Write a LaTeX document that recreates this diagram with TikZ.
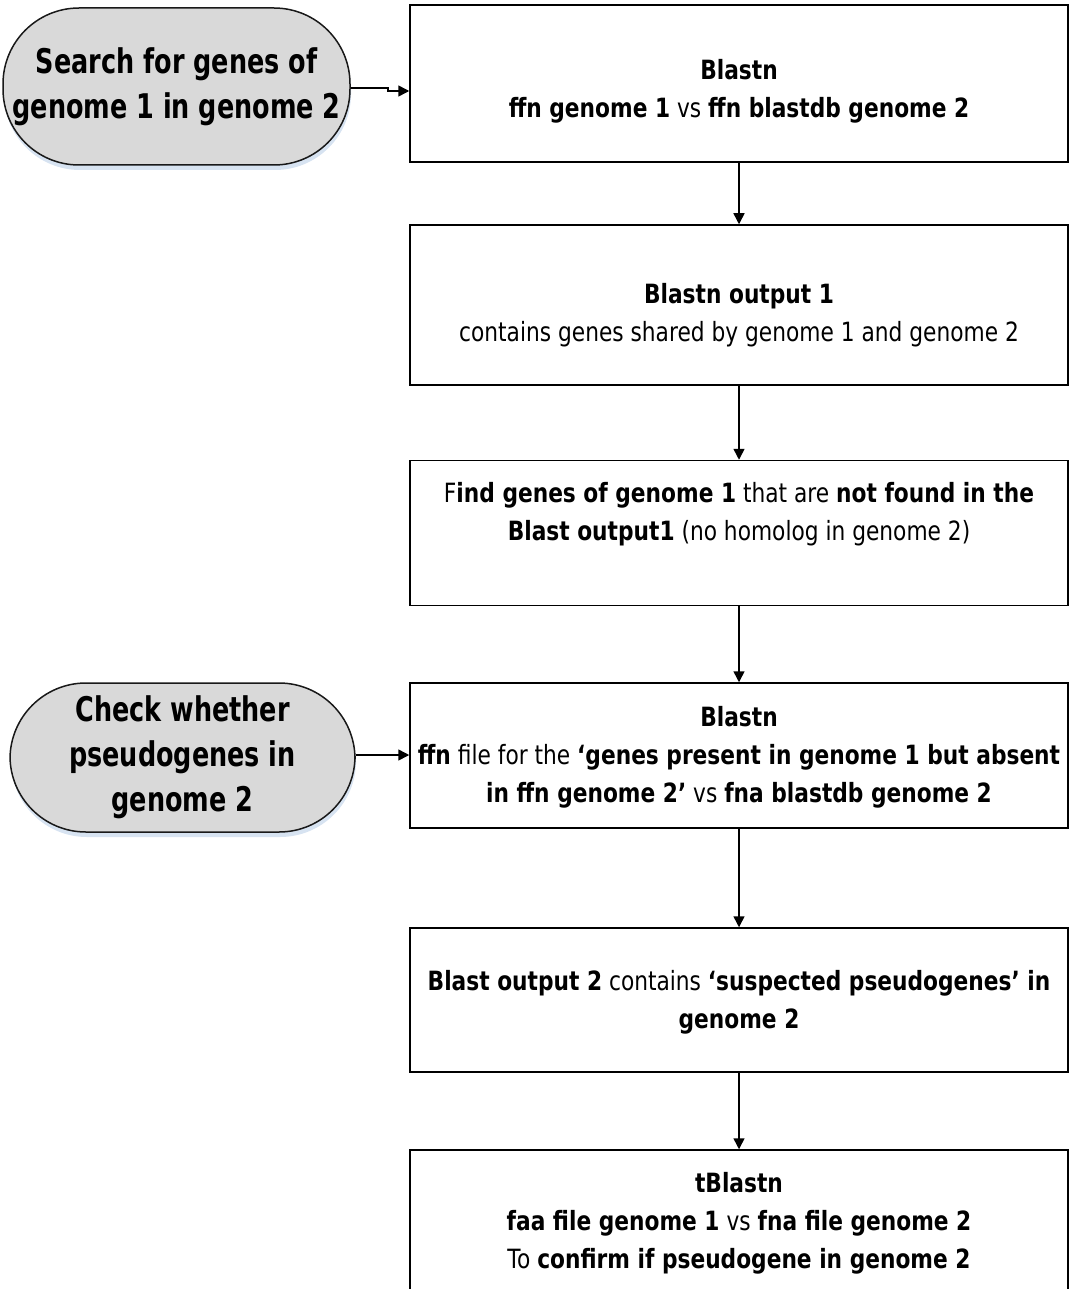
\documentclass[tikz,border=0pt]{standalone}
\usepackage{fontspec}
\setmainfont{DejaVu Sans}[FakeStretch=0.82]
\newfontfamily\termfont{DejaVu Sans}[FakeStretch=0.75]
\usetikzlibrary{arrows.meta,shadows}

\definecolor{termfill}{RGB}{217,217,217}
\definecolor{termglow}{RGB}{205,220,238}

\tikzset{
  stepbox/.style={draw=black, line width=1.5pt, fill=white, minimum width=658pt, inner sep=0pt},
  steptext/.style={align=center, inner sep=0pt, font=\fontsize{26.5}{38}\selectfont},
  terminal/.style={draw=black!90, line width=1.5pt, fill=termfill,
    rounded corners=76pt, align=center, inner sep=0pt,
    font=\termfont\fontsize{34}{45}\selectfont\bfseries,
    drop shadow={shadow xshift=1pt, shadow yshift=-5pt, fill=termglow, opacity=.8}},
  flow/.style={line width=1.5pt, -{Triangle[length=11pt,width=11pt]}}
}

\begin{document}
\begin{tikzpicture}[x=1pt,y=-1pt]
\useasboundingbox (0,0) rectangle (1072,1289);

% process step frames
\node[stepbox, minimum height=157pt] (b1) at (739,83.5) {};
\node[stepbox, minimum height=160pt] (b2) at (739,305) {};
\node[stepbox, minimum height=145pt] (b3) at (739,533) {};
\node[stepbox, minimum height=145pt] (b4) at (739,755.5) {};
\node[stepbox, minimum height=144pt] (b5) at (739,1000) {};
\node[stepbox, minimum height=142pt] (b6) at (739,1221) {};

% process step texts
\node[steptext] (b1t) at ([yshift=-8pt]b1.center)
  {\textbf{Blastn}\\ \textbf{ffn genome 1} vs \textbf{ffn blastdb genome 2}};
\node[steptext] (b2t) at ([yshift=-10pt]b2.center)
  {\textbf{Blastn output 1}\\ contains genes shared by genome 1 and genome 2};
\node[steptext] (b3t) at ([yshift=-1pt]b3.center |- 0,513)
  {F\textbf{ind genes of genome 1} that are \textbf{not found in the}\\
   \textbf{Blast output1} (no homolog in genome 2)};
\node[steptext] (b4t) at ([yshift=-2pt]b4.center)
  {\textbf{Blastn}\\ \textbf{ffn} file for the \textbf{‘genes present in genome 1 but absent}\\
   \textbf{in ffn genome 2’} vs \textbf{fna blastdb genome 2}};
\node[steptext] (b5t) at ([yshift=-2pt]b5.center)
  {\textbf{Blast output 2} contains \textbf{‘suspected pseudogenes’ in}\\ \textbf{genome 2}};
\node[steptext] (b6t) at ([yshift=-2pt]b6.center)
  {\textbf{tBlastn}\\ \textbf{faa file genome 1} vs \textbf{fna file genome 2}\\
   To \textbf{confirm if pseudogene in genome 2}};

% start terminals
\node[terminal, minimum width=347pt, minimum height=157pt] (t1) at (176.5,86.5)
  {Search for genes of\\ genome 1 in genome 2};
\node[terminal, minimum width=345pt, minimum height=149pt] (t2) at (182.5,757.5)
  {Check whether\\ pseudogenes in\\ genome 2};

% connectors
\draw[flow] ([yshift=-1.5pt]t1.east) -- ++(37,0) |- ([yshift=-7.5pt]b1.west);
\draw[flow] ([yshift=2.5pt]t2.east) -- ([yshift=2.5pt]t2.east -| b4.west);
\draw[flow] (b1.south) -- (b2.north);
\draw[flow] (b2.south) -- (b3.north);
\draw[flow] (b3.south) -- (b4.north);
\draw[flow] (b4.south) -- (b5.north);
\draw[flow] (b5.south) -- (b6.north);
\end{tikzpicture}
\end{document}
